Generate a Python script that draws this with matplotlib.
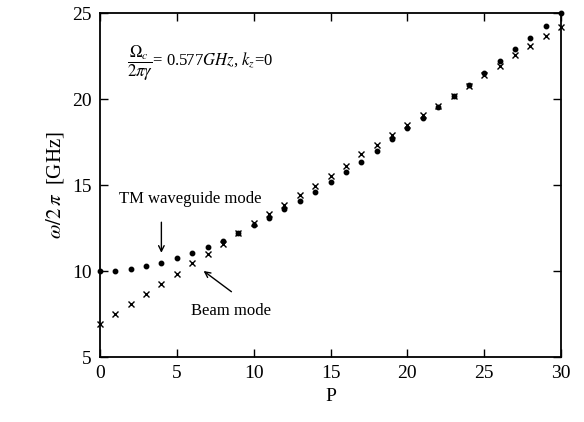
import matplotlib
matplotlib.use('Agg')
import matplotlib.pyplot as plt

plt.rcParams['font.family'] = ['Liberation Serif', 'DejaVu Serif']
plt.rcParams['mathtext.fontset'] = 'stix'

# harmonic number P
p = list(range(31))

# TM waveguide mode (dots)
tm_mode = [10.0, 10.0, 10.1, 10.27, 10.48, 10.77, 11.06, 11.4, 11.76, 12.2,
           12.65, 13.1, 13.6, 14.1, 14.57, 15.16, 15.75, 16.35, 17.0, 17.65,
           18.3, 18.9, 19.56, 20.17, 20.8, 21.53, 22.19, 22.9, 23.56, 24.26,
           25.0]

# beam mode (crosses)
beam_mode = [6.9, 7.48, 8.06, 8.64, 9.24, 9.84, 10.44, 11.0, 11.6, 12.2,
             12.77, 13.3, 13.85, 14.45, 14.97, 15.55, 16.12, 16.78, 17.3, 17.9,
             18.5, 19.07, 19.6, 20.17, 20.75, 21.38, 21.94, 22.54, 23.1, 23.68,
             24.2]

fig = plt.figure(figsize=(5.84, 4.22), dpi=100)
ax = fig.add_axes([0.171, 0.154, 0.79, 0.815])

ax.plot(p, tm_mode, 'o', color='black', markersize=3.2, clip_on=False)
ax.plot(p, beam_mode, 'x', color='black', markersize=4, markeredgewidth=1.0,
        clip_on=False)

ax.set_xlim(0, 30)
ax.set_ylim(5, 25)
ax.set_xticks([0, 5, 10, 15, 20, 25, 30])
ax.set_yticks([5, 10, 15, 20, 25])
ax.tick_params(direction='in', top=True, right=True, length=6, width=1,
               labelsize=14, pad=6)
for s in ax.spines.values():
    s.set_linewidth(1.3)

ax.set_xlabel('P', fontsize=14)
ax.set_ylabel(r'$\omega/2\,\pi$  [GHz]', fontsize=15)

ax.text(1.75, 22.1,
        r'$\dfrac{\mathit{\Omega}_c}{2\pi\gamma}$= 0.577$GHz$, $k_z$=0',
        fontsize=12, va='center')

ax.annotate('', xy=(4, 10.9), xytext=(4, 13.0),
            arrowprops=dict(arrowstyle='->', color='black', lw=1))
ax.text(1.25, 14.2, 'TM waveguide mode', fontsize=12, va='center')

ax.annotate('', xy=(6.6, 10.1), xytext=(8.7, 8.7),
            arrowprops=dict(arrowstyle='->', color='black', lw=1))
ax.text(5.95, 7.65, 'Beam mode', fontsize=12, va='center')

fig.savefig('out.png', dpi=100)
